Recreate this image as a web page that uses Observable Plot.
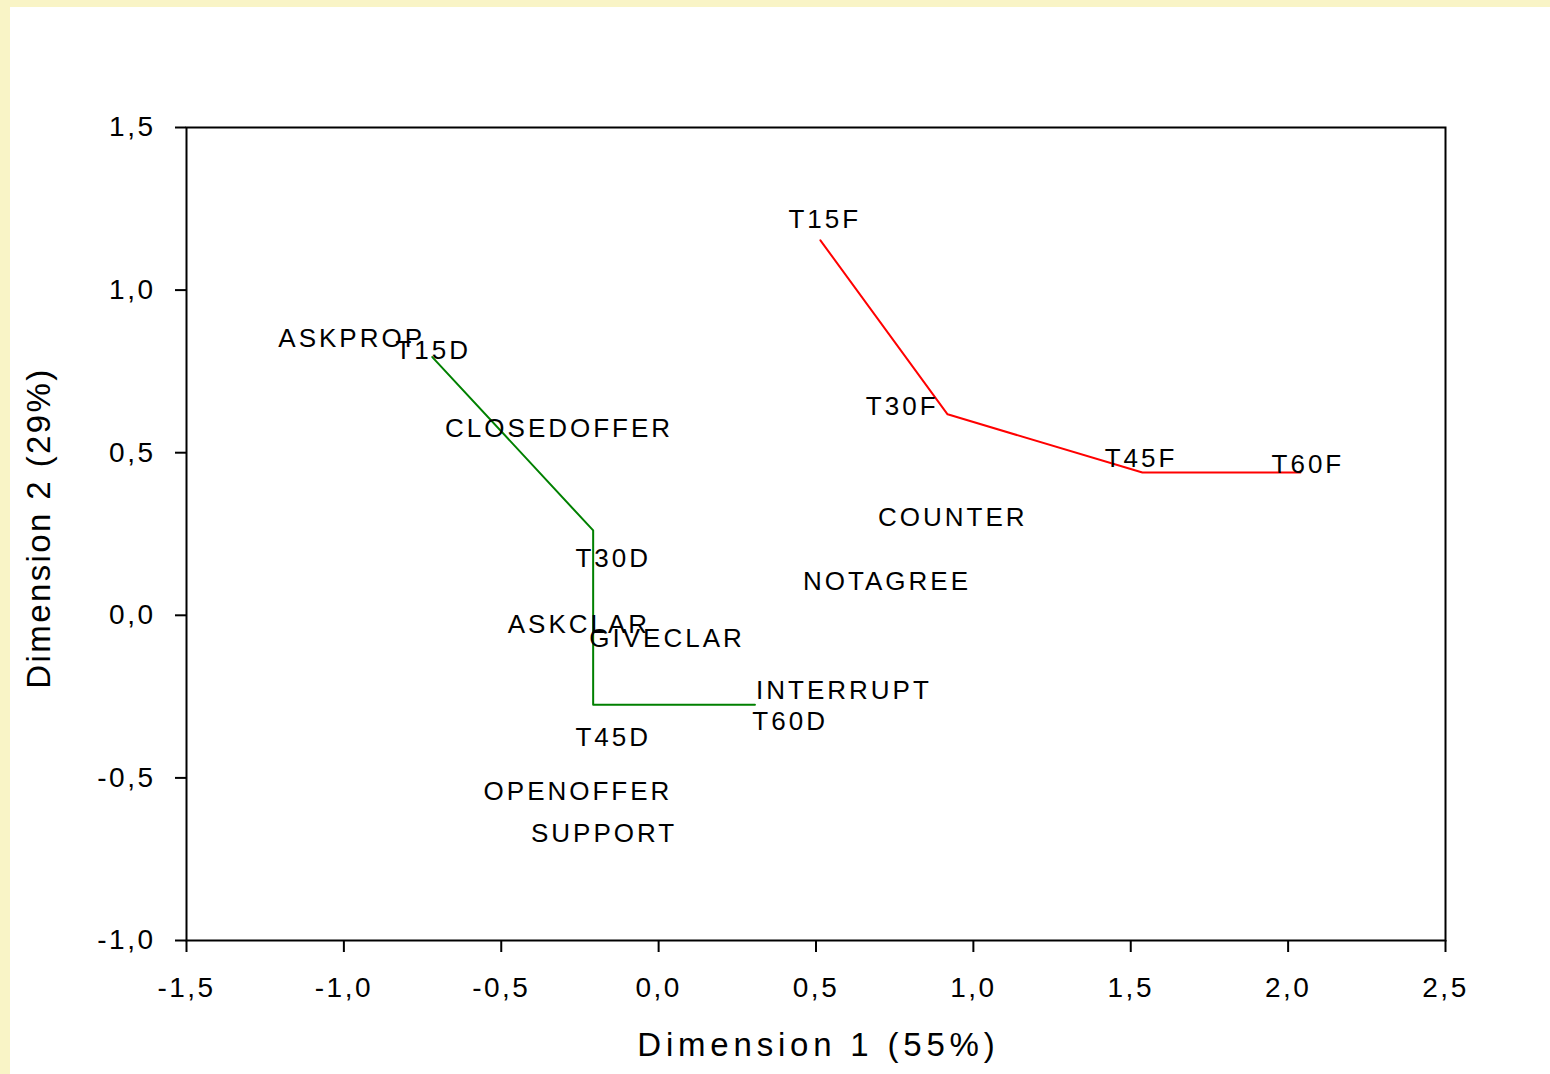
<!DOCTYPE html>
<html>
<head>
<meta charset="utf-8">
<script src="https://cdn.jsdelivr.net/npm/d3@7"></script>
<script src="https://cdn.jsdelivr.net/npm/@observablehq/plot@0.6"></script>
<style>
  html, body { margin: 0; padding: 0; }
  body { width: 1550px; height: 1074px; background: #f9f4c6; position: relative; overflow: hidden; font-family: "Liberation Sans", Arial, sans-serif; }
  #panel { position: absolute; left: 10px; top: 7px; width: 1540px; height: 1067px; background: #ffffff; }
  #chart { position: absolute; left: 0; top: 0; }
  g[aria-label="x-axis tick label"] text, g[aria-label="y-axis tick label"] text { letter-spacing: 2.5px; }
  [aria-description="point labels"] text { letter-spacing: 3px; }
  [aria-description="x title"] text { letter-spacing: 4.8px; }
  [aria-description="y title"] text { letter-spacing: 2.4px; }
</style>
</head>
<body>
<div id="panel"></div>
<div id="chart"></div>
<script>
// Category labels and their positions (Dimension 1, Dimension 2)
const labels = ["ASKPROP","T15D","CLOSEDOFFER","T15F","T30F","T45F","T60F","COUNTER","T30D","NOTAGREE","ASKCLAR","GIVECLAR","INTERRUPT","T60D","T45D","OPENOFFER","SUPPORT"];
const labelX = [-0.980,-0.721,-0.321,0.523,0.769,1.528,2.058,0.930,-0.149,0.721,-0.258,0.022,0.584,0.413,-0.149,-0.261,-0.178];
const labelY = [0.851,0.814,0.574,1.217,0.642,0.482,0.463,0.300,0.174,0.104,-0.028,-0.072,-0.232,-0.326,-0.375,-0.541,-0.670];

// Trajectory lines
const dLineX = [-0.719,-0.208,-0.208,0.306];
const dLineY = [0.794,0.261,-0.275,-0.275];
const fLineX = [0.514,0.918,1.537,2.039];
const fLineY = [1.153,0.618,0.439,0.439];

const xTicks = [-1.5,-1.0,-0.5,0.0,0.5,1.0,1.5,2.0,2.5];
const yTicks = [-1.0,-0.5,0.0,0.5,1.0,1.5];
const xTitle = "Dimension 1 (55%)";
const yTitle = "Dimension 2 (29%)";

const fmt = d => d.toFixed(1).replace(".", ",");

const pts = labels.map((l, i) => ({label: l, x: labelX[i], y: labelY[i]}));
const dLine = dLineX.map((x, i) => ({x, y: dLineY[i]}));
const fLine = fLineX.map((x, i) => ({x, y: fLineY[i]}));

const plot = Plot.plot({
  width: 1550,
  height: 1074,
  marginLeft: 186,
  marginRight: 105,
  marginTop: 127,
  marginBottom: 134,
  style: {background: "transparent", fontFamily: "'Liberation Sans', Arial, sans-serif", color: "#000"},
  x: {domain: [-1.5, 2.5]},
  y: {domain: [-1.0, 1.5]},
  marks: [
    Plot.frame({stroke: "#000", strokeWidth: 2}),
    Plot.axisX({ticks: xTicks, tickFormat: fmt, tickSize: 12, tickPadding: 25, fontSize: 28, strokeWidth: 2, label: null}),
    Plot.axisY({ticks: yTicks, tickFormat: fmt, tickSize: 11, tickPadding: 20, fontSize: 28, strokeWidth: 2, label: null}),
    Plot.line(dLine, {x: "x", y: "y", stroke: "#008000", strokeWidth: 2}),
    Plot.line(fLine, {x: "x", y: "y", stroke: "#ff0000", strokeWidth: 2}),
    Plot.text(pts, {x: "x", y: "y", text: "label", fontSize: 26, dx: 1.5, fill: "#000", ariaDescription: "point labels"}),
    Plot.text([xTitle], {frameAnchor: "bottom", textAnchor: "middle", dy: 115, dx: 2.4, fontSize: 33, fill: "#000", ariaDescription: "x title"}),
    Plot.text([yTitle], {frameAnchor: "left", textAnchor: "middle", dx: -147, dy: -6, rotate: -90, fontSize: 33, fill: "#000", ariaDescription: "y title"})
  ]
});
document.getElementById("chart").appendChild(plot);
</script>
</body>
</html>
